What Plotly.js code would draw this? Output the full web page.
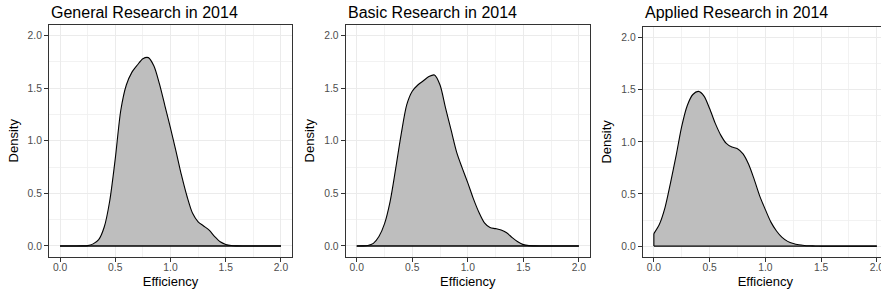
<!DOCTYPE html>
<html>
<head>
<meta charset="utf-8">
<script src="https://cdn.plot.ly/plotly-3.0.1.min.js"></script>
<style>
html, body { margin: 0; padding: 0; overflow: hidden; background: #fff; }
#chart { width: 890px; height: 295px; }
</style>
</head>
<body>
<div id="chart"></div>
<script>
// ---- data ----
const efficiency = [0, 0.05, 0.1, 0.15, 0.2, 0.25, 0.3, 0.35, 0.4, 0.45, 0.5, 0.55, 0.6, 0.65, 0.7, 0.75, 0.8, 0.85, 0.9, 0.95,
  1.0, 1.05, 1.1, 1.15, 1.2, 1.25, 1.3, 1.35, 1.4, 1.45, 1.5, 1.55, 1.6, 1.65, 1.7, 1.75, 1.8, 1.85, 1.9, 1.95, 2.0];
const generalDensity = [0, 0, 0, 0, 0.001, 0.003, 0.02, 0.06, 0.18, 0.43, 0.83, 1.29, 1.53, 1.65, 1.72, 1.78, 1.79, 1.71, 1.54, 1.33,
  1.12, 0.90, 0.67, 0.47, 0.31, 0.23, 0.19, 0.15, 0.09, 0.04, 0.015, 0.004, 0.001, 0, 0, 0, 0, 0, 0, 0, 0];
const basicDensity = [0, 0.001, 0.005, 0.025, 0.09, 0.21, 0.42, 0.73, 1.06, 1.34, 1.47, 1.53, 1.57, 1.61, 1.625, 1.53, 1.31, 1.10, 0.89, 0.74,
  0.60, 0.45, 0.32, 0.22, 0.175, 0.165, 0.152, 0.125, 0.08, 0.04, 0.013, 0.003, 0.001, 0, 0, 0, 0, 0, 0, 0, 0];
const appliedDensity = [0.12, 0.21, 0.37, 0.61, 0.87, 1.15, 1.35, 1.455, 1.485, 1.44, 1.32, 1.18, 1.065, 0.985, 0.95, 0.935, 0.885, 0.785, 0.64, 0.48,
  0.35, 0.23, 0.145, 0.083, 0.045, 0.024, 0.012, 0.006, 0.003, 0.001, 0, 0, 0, 0, 0, 0, 0, 0, 0, 0, 0];
const panelTitles = ["General Research in 2014", "Basic Research in 2014", "Applied Research in 2014"];
const tickValues = [0, 0.5, 1.0, 1.5, 2.0];
const tickLabels = ["0.0", "0.5", "1.0", "1.5", "2.0"];
const xTitle = "Efficiency";
const yTitle = "Density";

// ---- layout geometry (pixels) ----
const W = 890, H = 295;
const boxes = [
  {l: 49, r: 292, t: 25, b: 256.5},
  {l: 345.6, r: 590, t: 25, b: 256.5},
  {l: 642.7, r: 888, t: 27.3, b: 256.5}
];
const series = [generalDensity, basicDensity, appliedDensity];
const FONT = "Liberation Sans, Arial, Helvetica, sans-serif";

const traces = [];
const layout = {
  width: W, height: H,
  margin: {l: 0, r: 0, t: 0, b: 0},
  paper_bgcolor: "#fff", plot_bgcolor: "#fff",
  showlegend: false,
  font: {family: FONT, color: "#000"},
  annotations: [],
  hovermode: false
};

series.forEach((dens, i) => {
  const n = i === 0 ? "" : String(i + 1);
  const xa = "x" + n, ya = "y" + n;
  traces.push({
    x: efficiency, y: dens, xaxis: xa, yaxis: ya,
    type: "scatter", mode: "lines",
    line: {color: "#000", width: 1.1, shape: "spline", smoothing: 0.8},
    fill: "tozeroy", fillcolor: "#BEBEBE"
  });
  traces.push({
    x: [efficiency[0], efficiency[efficiency.length - 1]], y: [0, 0],
    xaxis: xa, yaxis: ya, type: "scatter", mode: "lines",
    line: {color: "#000", width: 1.3}
  });
  traces.push({
    x: [efficiency[0], efficiency[0]], y: [0, dens[0]],
    xaxis: xa, yaxis: ya, type: "scatter", mode: "lines",
    line: {color: "#000", width: 1.1}
  });

  const bx = boxes[i];
  const common = {
    range: [-0.1, 2.1],
    tickvals: tickValues, ticktext: tickLabels,
    ticks: "outside", ticklen: 4, tickwidth: 1, tickcolor: "#333333",
    showline: true, mirror: true, linecolor: "#333333", linewidth: 1,
    showgrid: true, gridcolor: "#EBEBEB", gridwidth: 1,
    zeroline: false, fixedrange: true,
    tickfont: {family: FONT, size: 10.3, color: "#4D4D4D"},
    minor: {tickvals: [0.25, 0.75, 1.25, 1.75], showgrid: true, gridcolor: "#EFEFEF", gridwidth: 0.8, ticks: ""}
  };
  layout["xaxis" + n] = Object.assign({}, common, {
    domain: [bx.l / W, bx.r / W], anchor: ya,
    ticklabelstandoff: -3,
    title: {text: xTitle, font: {family: FONT, size: 13, color: "#000"}, standoff: 5}
  });
  layout["yaxis" + n] = Object.assign({}, common, {
    domain: [1 - bx.b / H, 1 - bx.t / H], anchor: xa,
    title: {text: yTitle, font: {family: FONT, size: 13, color: "#000"}, standoff: 6}
  });
  layout.annotations.push({
    text: panelTitles[i], xref: "paper", yref: "paper",
    x: bx.l / W, xanchor: "left", y: 1 - 12.5 / H, yanchor: "middle",
    showarrow: false, font: {family: FONT, size: 16, color: "#000"}
  });
});

Plotly.newPlot("chart", traces, layout, {displayModeBar: false, staticPlot: true});
</script>
</body>
</html>
